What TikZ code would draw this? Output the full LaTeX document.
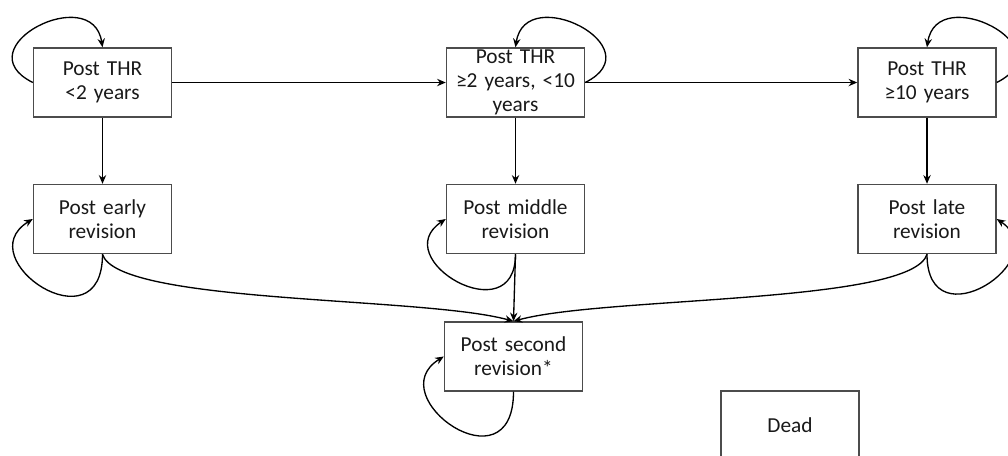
\documentclass[tikz,border=0pt]{standalone}
\usepackage{fontspec}
\setmainfont{Carlito}
\usetikzlibrary{arrows.meta}
\tikzset{
  state/.style={rectangle, draw=black!70, line width=1.1pt, text width=95pt,
    inner xsep=4.25pt, inner ysep=0pt, minimum height=51.75pt, align=center,
    text=black!90, font=\fontsize{16}{18}\selectfont},
  move/.style={-{Stealth[length=6.5pt,width=5.5pt]}, line width=1pt},
}
\begin{document}
\begin{tikzpicture}[x=0.75pt,y=-0.75pt]
                                    \useasboundingbox (0,0) rectangle (1008,455);
% states
                                    \node[state] (thrA) at (102.5,82.5) {Post THR\\<2 years};
                                    \node[state] (thrB) at (515.5,82.5) {Post THR\\≥2 years, <10\\years};
                                    \node[state] (thrC) at (927,82.5) {Post THR\\≥10 years};
                                    \node[state] (early) at (102.5,219) {Post early\\revision};
                                    \node[state] (middle) at (515.5,219) {Post middle\\revision};
                                    \node[state] (late) at (927,219) {Post late\\revision};
                                    \node[state] (second) at (513.5,356.5) {Post second\\revision*};
                                    \node[state] (dead) at (790,425.5) {Dead};

% moves between states
                                    \draw[move] (thrA) -- (thrB);
                                    \draw[move] (thrB) -- (thrC);
                                    \draw[move] (thrA) -- (early);
                                    \draw[move] (thrB) -- (middle);
                                    \draw[move] (thrC) -- (late);
                                    \draw[move] (early.south) .. controls +(15,50) and +(-90,-25) .. (second.north);
                                    \draw[move] (middle.south) -- (second.north);
                                    \draw[move] (late.south) .. controls +(-15,50) and +(90,-25) .. (second.north);

% staying
                                    \draw[move] (thrA.west) .. controls +(-70,-35) and +(-10,-66) .. (thrA.north);
                                    \draw[move] (thrB.east) .. controls +(70,-35) and +(10,-66) .. (thrB.north);
                                    \draw[move] (thrC.east) .. controls +(70,-35) and +(10,-66) .. (thrC.north);
                                    \draw[move] (early.south) .. controls +(0,95) and +(-65,40) .. (early.west);
                                    \draw[move] (middle.south) .. controls +(0,80) and +(-60,40) .. (middle.west);
                                    \draw[move] (late.south) .. controls +(0,90) and +(60,40) .. (late.east);
                                    \draw[move] (second.south) .. controls +(0,100) and +(-65,40) .. (second.west);
                                \end{tikzpicture}
\end{document}
